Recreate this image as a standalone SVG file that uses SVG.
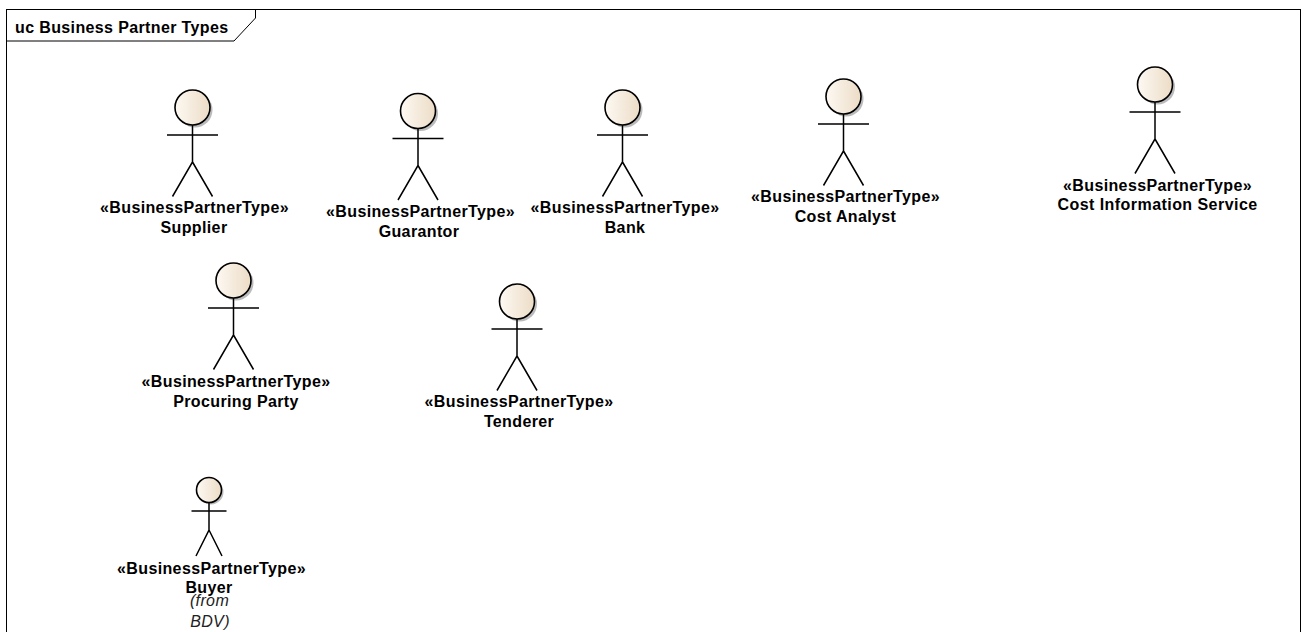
<svg xmlns="http://www.w3.org/2000/svg" width="1306" height="632" viewBox="0 0 1306 632">
<style>
text{font-family:"Liberation Sans",Arial,sans-serif;font-size:16px;letter-spacing:.37px;font-weight:bold;fill:#000;text-anchor:middle}
.i{font-weight:normal;font-style:italic;fill:#222}
.l{fill:none;stroke:#000;stroke-width:1.5}
.h{stroke:#000;stroke-width:1.6;fill:url(#g)}
.s{fill:#aaa;fill-opacity:.8}
</style>
<defs>
<linearGradient id="g" x1="0" x2="1" y1="0" y2="0"><stop offset="0" stop-color="#fdf9f3"/><stop offset="1" stop-color="#ecdcc6"/></linearGradient>
<g id="actor">
<circle class="s" cx="2.500" cy="20" r="17.500"/>
<circle class="h" cx="0" cy="17.500" r="17.500"/>
<path class="l" d="M-25.500 45H25.500M0 35V72L-20 106.500M0 72L20 106.500"/>
</g>
<g id="small">
<circle class="s" cx="2" cy="14.500" r="12.500"/>
<circle class="h" cx="0" cy="12.500" r="12.500"/>
<path class="l" d="M-17.500 33.500H17.500M0 25V52.500L-13 78.500M0 52.500L13 78.500"/>
</g>
</defs>
<g id="frame">
<rect x="6.500" y="9.500" width="1294" height="640" fill="#fff" stroke="#000" stroke-width="1"/>
<path d="M6.500 41H234L255.500 18V9.500" fill="none" stroke="#000" stroke-width="1"/>
<text x="15" y="33" style="text-anchor:start">uc Business Partner Types</text>
</g>
<g id="connectors"/>
<g id="supplier"><use href="#actor" x="192.500" y="90"/><text x="194.500" y="213">«BusinessPartnerType»</text><text x="194" y="233">Supplier</text></g>
<g id="guarantor"><use href="#actor" x="418" y="93.500"/><text x="420.500" y="217">«BusinessPartnerType»</text><text x="419" y="237">Guarantor</text></g>
<g id="bank"><use href="#actor" x="622.500" y="90"/><text x="625" y="213">«BusinessPartnerType»</text><text x="625" y="233">Bank</text></g>
<g id="cost-analyst"><use href="#actor" x="843.500" y="79"/><text x="845.500" y="202">«BusinessPartnerType»</text><text x="845.500" y="222">Cost Analyst</text></g>
<g id="cost-information-service"><use href="#actor" x="1155" y="67"/><text x="1157.500" y="191">«BusinessPartnerType»</text><text x="1157.500" y="210" style="letter-spacing:.45px">Cost Information Service</text></g>
<g id="procuring-party"><use href="#actor" x="233.500" y="263"/><text x="236" y="387">«BusinessPartnerType»</text><text x="236" y="407">Procuring Party</text></g>
<g id="tenderer"><use href="#actor" x="517" y="284"/><text x="519" y="407">«BusinessPartnerType»</text><text x="519" y="427">Tenderer</text></g>
<g id="buyer"><use href="#small" x="209" y="477.500"/><text x="211.500" y="574">«BusinessPartnerType»</text><text x="209" y="593">Buyer</text><text class="i" x="209.500" y="606">(from</text><text class="i" x="210" y="627">BDV)</text></g>
</svg>
